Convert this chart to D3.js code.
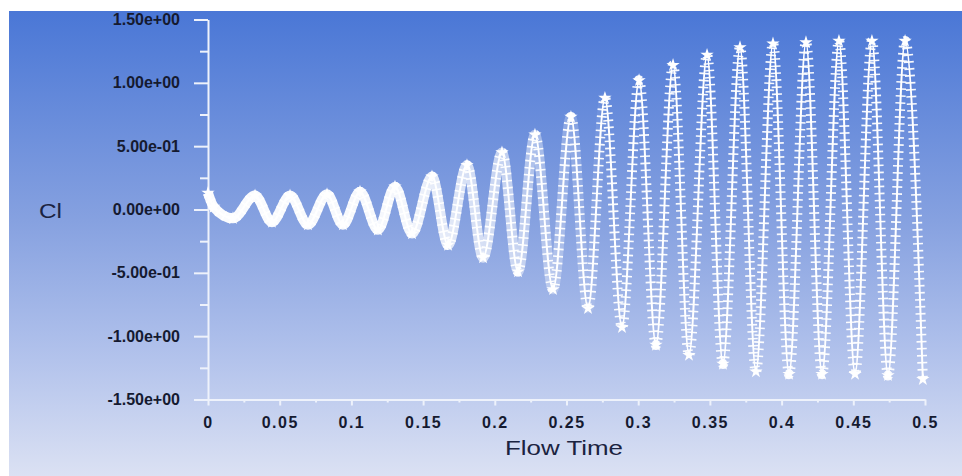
<!DOCTYPE html>
<html>
<head>
<meta charset="utf-8">
<script src="https://cdn.jsdelivr.net/npm/d3@7"></script>
<style>
  html, body { margin: 0; padding: 0; background: #ffffff; }
  svg { display: block; }
</style>
</head>
<body>
<div id="chart"></div>
<script>
// ---- data (extrema of the Cl signal) ----
const flowTime = [0.0000, 0.0040, 0.0174, 0.0328, 0.0446, 0.0572, 0.0697, 0.0830, 0.0941, 0.1060,
                  0.1185, 0.1304, 0.1423, 0.1562, 0.1674, 0.1806, 0.1918, 0.2050, 0.2162, 0.2280,
                  0.2406, 0.2531, 0.2650, 0.2768, 0.2887, 0.3006, 0.3124, 0.3243, 0.3354, 0.3480,
                  0.3591, 0.3710, 0.3821, 0.3940, 0.4052, 0.4170, 0.4282, 0.4400, 0.4512, 0.4630,
                  0.4742, 0.4861, 0.4985];
const clValues = [0.13, 0.02, -0.07, 0.11, -0.10, 0.11, -0.12, 0.12, -0.12, 0.14,
                  -0.16, 0.18, -0.19, 0.26, -0.28, 0.35, -0.38, 0.45, -0.49, 0.59,
                  -0.63, 0.73, -0.78, 0.88, -0.93, 1.02, -1.07, 1.14, -1.15, 1.22,
                  -1.22, 1.28, -1.28, 1.31, -1.30, 1.32, -1.30, 1.33, -1.30, 1.33,
                  -1.31, 1.33, -1.34];

const yMajorTicks = [-1.5, -1.0, -0.5, 0, 0.5, 1.0, 1.5];
const yTickLabels = ["-1.50e+00", "-1.00e+00", "-5.00e-01", "0.00e+00", "5.00e-01", "1.00e+00", "1.50e+00"];
const yMinorTicks = [-1.25, -0.75, -0.25, 0.25, 0.75, 1.25];
const xMajorTicks = [0, 0.05, 0.1, 0.15, 0.2, 0.25, 0.3, 0.35, 0.4, 0.45, 0.5];
const xTickLabels = ["0", "0.05", "0.1", "0.15", "0.2", "0.25", "0.3", "0.35", "0.4", "0.45", "0.5"];
const xMinorTicks = [0.025, 0.075, 0.125, 0.175, 0.225, 0.275, 0.325, 0.375, 0.425, 0.475];
const yTitle = "Cl";
const xTitle = "Flow Time";

// ---- layout ----
const W = 962, H = 476;
const svg = d3.select("#chart").append("svg").attr("width", W).attr("height", H);
const defs = svg.append("defs");

const bg = defs.append("linearGradient").attr("id", "bg")
  .attr("x1", 0).attr("y1", 0).attr("x2", 0).attr("y2", 1);
bg.append("stop").attr("offset", "0%").attr("stop-color", "#4a77d6");
bg.append("stop").attr("offset", "45%").attr("stop-color", "#86a1e0");
bg.append("stop").attr("offset", "75%").attr("stop-color", "#b3c3ec");
bg.append("stop").attr("offset", "100%").attr("stop-color", "#dbe1f3");

const x = d3.scaleLinear().domain([0, 0.5]).range([208, 925]);
const y = d3.scaleLinear().domain([-1.5, 1.5]).range([399.5, 19.5]);

const band = defs.append("linearGradient").attr("id", "band")
  .attr("gradientUnits", "userSpaceOnUse")
  .attr("x1", x(0)).attr("x2", x(0.5)).attr("y1", 0).attr("y2", 0);
[[0, 0.97], [0.27, 0.92], [0.42, 0.55], [0.56, 0.0], [1, 0]].forEach(([o, a]) =>
  band.append("stop").attr("offset", o).attr("stop-color", "#ffffff").attr("stop-opacity", a));

const soft = defs.append("filter").attr("id", "soft");
soft.append("feGaussianBlur").attr("stdDeviation", 0.4);

svg.append("rect").attr("x", 9).attr("y", 11).attr("width", W - 9).attr("height", H - 11)
  .attr("fill", "url(#bg)");

// ---- axes ----
const fontFam = "'Liberation Sans', Arial, sans-serif";
const axisColor = "#eef2fb";

const yAxisMinor = svg.append("g").attr("transform", `translate(${x(0)},0)`)
  .call(d3.axisLeft(y).tickValues(yMinorTicks).tickSize(8).tickSizeOuter(0).tickFormat(""));
yAxisMinor.select(".domain").remove();

const yAxis = svg.append("g").attr("transform", `translate(${x(0)},0)`)
  .call(d3.axisLeft(y).tickValues(yMajorTicks).tickSize(14).tickSizeOuter(0).tickPadding(14)
    .tickFormat((d, i) => yTickLabels[i]));

const xAxisMinor = svg.append("g").attr("transform", `translate(0,${y(-1.5)})`)
  .call(d3.axisBottom(x).tickValues(xMinorTicks).tickSize(3).tickSizeOuter(0).tickFormat(""));
xAxisMinor.select(".domain").remove();

const xAxis = svg.append("g").attr("transform", `translate(0,${y(-1.5)})`)
  .call(d3.axisBottom(x).tickValues(xMajorTicks).tickSize(6).tickSizeOuter(0).tickPadding(11)
    .tickFormat((d, i) => xTickLabels[i]));

svg.selectAll(".domain").attr("stroke", axisColor).attr("stroke-width", 2);
svg.selectAll(".tick line").attr("stroke", axisColor).attr("stroke-width", 2);
svg.selectAll(".tick text")
  .attr("fill", "#151a30")
  .style("font-family", fontFam)
  .style("font-size", "16px")
  .style("font-weight", "bold");
xAxis.selectAll(".tick text").style("letter-spacing", "1.5px");

svg.append("text").attr("x", 39).attr("y", 217.5)
  .style("font-family", fontFam).style("font-size", "21px")
  .attr("fill", "#1b2340").attr("textLength", 23).attr("lengthAdjust", "spacingAndGlyphs")
  .text(yTitle);

svg.append("text").attr("x", 505).attr("y", 455)
  .style("font-family", fontFam).style("font-size", "21px")
  .attr("fill", "#1b2340").attr("textLength", 118).attr("lengthAdjust", "spacingAndGlyphs")
  .text(xTitle);

// ---- Cl curve ----
const pts = flowTime.map((t, i) => [t, clValues[i]]);
const line = d3.line().x(d => x(d[0])).y(d => y(d[1])).curve(d3.curveMonotoneX);
const curve = svg.append("g").attr("filter", "url(#soft)");

// dense marker band (markers overlap where the signal is small)
curve.append("path").attr("d", line(pts)).attr("fill", "none")
  .attr("stroke", "url(#band)").attr("stroke-width", 10).attr("stroke-linejoin", "round");
// "+" marker arms across the line
curve.append("path").attr("d", line(pts)).attr("fill", "none")
  .attr("stroke", "#ffffff").attr("stroke-opacity", 0.95)
  .attr("stroke-width", 10).attr("stroke-dasharray", "1.6 5.4");
// the line itself
curve.append("path").attr("d", line(pts)).attr("fill", "none")
  .attr("stroke", "#ffffff").attr("stroke-width", 2);
// marker clusters at the extrema
curve.selectAll("path.m").data(pts).join("path").attr("class", "m")
  .attr("transform", d => `translate(${x(d[0])},${y(d[1])})`)
  .attr("d", d3.symbol().type(d3.symbolStar).size(55))
  .attr("fill", "#ffffff");
</script>
</body>
</html>
